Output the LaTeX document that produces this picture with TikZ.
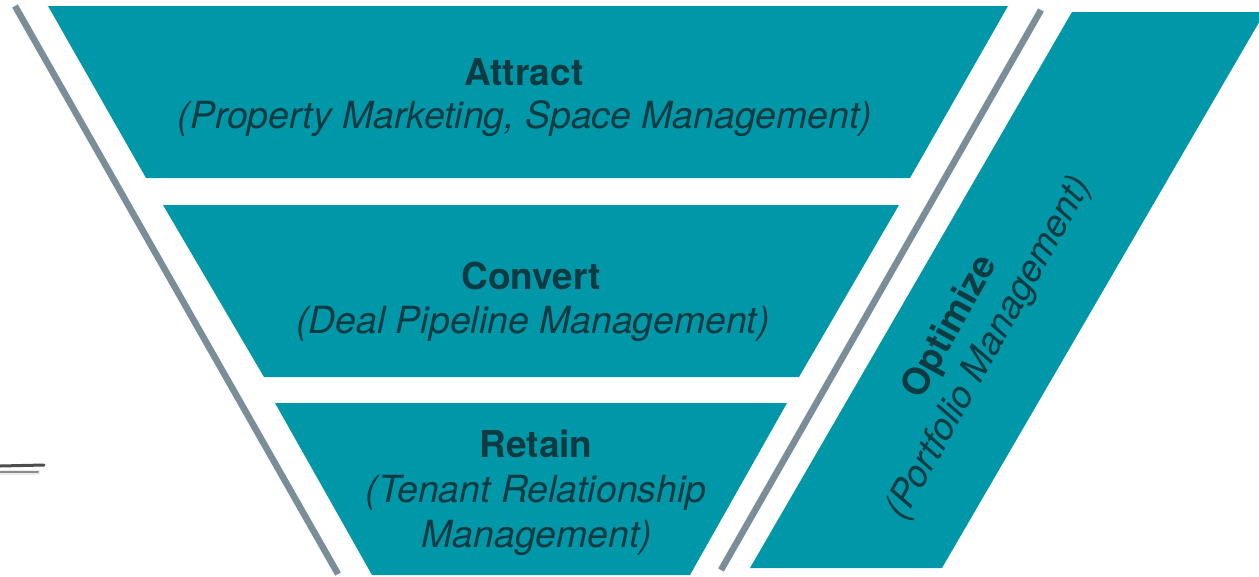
\documentclass[tikz,border=0pt]{standalone}
\usepackage{fontspec}
\setmainfont{TeX Gyre Heros}
\definecolor{funnelteal}{RGB}{0,152,168}
\definecolor{labelink}{RGB}{14,58,66}
\definecolor{railgray}{RGB}{122,142,153}
\tikzset{
  band/.style={fill=funnelteal},
  rail/.style={draw=railgray, line width=6.5pt},
  title/.style={inner sep=0pt, anchor=base, text=labelink, font=\fontsize{37}{44}\selectfont\bfseries},
  sub/.style={inner sep=0pt, anchor=base, text=labelink, font=\fontsize{37.4}{44}\selectfont\itshape},
}
\begin{document}
\begin{tikzpicture}[x=1pt,y=-1pt]
\useasboundingbox (0,0) rectangle (1259,576);
\clip (0,0) rectangle (1259,576);
% funnel bands
\fill[band] (48,6) -- (1008,6) -- (910,178) -- (146,178) -- cycle;
\fill[band] (163,205) -- (899,205) -- (799,377) -- (264,377) -- cycle;
\fill[band] (275,403) -- (787,403) -- (690,575) -- (372,575) -- cycle;
% optimize band
\fill[band] (1072,12) -- (1265,12) -- (942,568) -- (750,568) -- cycle;
% rails
\coordinate (lt) at (15,6);
\coordinate (lb) at (338,574);
\coordinate (rt) at (1041,10);
\coordinate (rb) at (721,570);
\draw[rail] (lt) -- (lb);
\draw[rail] (rt) -- (rb);
% smudge at left
\coordinate (s1) at (0,466);
\coordinate (s2) at (44,465);
\coordinate (s3) at (0,472);
\coordinate (s4) at (38,472);
\draw[line width=5pt, black!8, line cap=round] (s3) -- (s4);
\draw[line width=2pt, black!45, line cap=round] (s3) -- (s4);
\draw[line width=3pt, black!70, line cap=round] (s1) -- (s2);
% labels
\node[title] (attractT) at (524,85) {Attract};
\node[sub] (attractS) at (525,128) {(Property Marketing, Space Management)};
\node[title] (convertT) at (531,289) {Convert};
\node[sub] (convertS) at (533,333) {(Deal Pipeline Management)};
\node[title] (retainT) at (536,457) {Retain};
\node[sub] (retainS1) at (536,502) {(Tenant Relationship};
\node[sub] (retainS2) at (537,547) {Management)};
\node[inner sep=0pt, text=labelink, rotate=61, align=center, font=\fontsize{37}{44}\selectfont] (optimize) at (970,338)
  {{\bfseries Optimize}\\{\itshape (Portfolio Management)}};
\end{tikzpicture}
\end{document}
